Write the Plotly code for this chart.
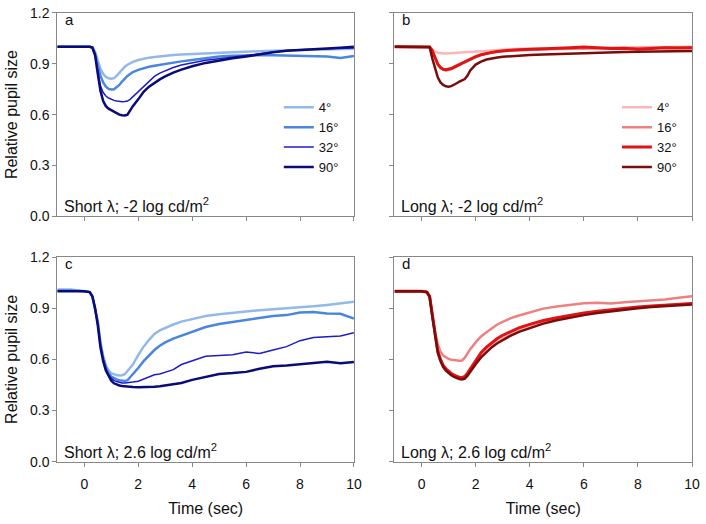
import plotly.graph_objects as go

# time axis (sec) shared by all traces
TIME = [-1.0, -0.5, 0.0, 0.2, 0.3, 0.4, 0.5, 0.6, 0.7, 0.8, 0.9, 1.0, 1.1, 1.2, 1.3, 1.4, 1.5, 1.6, 1.7, 1.8,
        2.0, 2.2, 2.4, 2.6, 2.8, 3.0, 3.3, 3.6, 4.0, 4.5, 5.0, 5.5, 6.0, 6.5, 7.0, 7.5, 8.0, 8.5, 9.0, 9.5, 10.0]

SIZES = ["4°", "16°", "32°", "90°"]

# panel a: short wavelength, -2 log cd/m2
a4 = [1.0, 1.0, 1.0, 1.0, 0.995, 0.97, 0.92, 0.87, 0.84, 0.822, 0.814, 0.812, 0.815, 0.828, 0.847, 0.866, 0.882, 0.894, 0.904, 0.911,
      0.922, 0.93, 0.936, 0.94, 0.944, 0.947, 0.951, 0.955, 0.958, 0.962, 0.966, 0.969, 0.972, 0.974, 0.976, 0.978, 0.98, 0.982, 0.984, 0.986, 0.988]
a16 = [1.0, 1.0, 1.0, 1.0, 0.995, 0.96, 0.89, 0.83, 0.79, 0.765, 0.752, 0.748, 0.75, 0.76, 0.775, 0.795, 0.813, 0.828, 0.84, 0.85,
       0.864, 0.874, 0.882, 0.888, 0.894, 0.899, 0.907, 0.914, 0.922, 0.934, 0.942, 0.947, 0.95, 0.951, 0.95, 0.949, 0.948, 0.946, 0.942, 0.934, 0.945]
a32 = [1.0, 1.0, 1.0, 1.0, 0.995, 0.955, 0.86, 0.77, 0.73, 0.71, 0.698, 0.69, 0.684, 0.68, 0.677, 0.676, 0.677, 0.68, 0.69, 0.705,
       0.735, 0.77, 0.8, 0.825, 0.845, 0.86, 0.878, 0.892, 0.905, 0.92, 0.93, 0.94, 0.948, 0.96, 0.972, 0.978, 0.982, 0.984, 0.988, 0.99, 0.993]
a90 = [1.0, 1.0, 1.0, 1.0, 0.995, 0.95, 0.84, 0.74, 0.68, 0.65, 0.635, 0.625, 0.615, 0.607, 0.6, 0.596, 0.595, 0.6, 0.625, 0.65,
       0.69, 0.735, 0.765, 0.788, 0.808, 0.825, 0.848, 0.865, 0.885, 0.905, 0.92, 0.932, 0.942, 0.955, 0.968, 0.976, 0.982, 0.985, 0.99, 0.995, 1.0]

# panel b: long wavelength, -2 log cd/m2
b4 = [1.0, 1.0, 1.0, 1.0, 0.998, 0.985, 0.972, 0.965, 0.962, 0.961, 0.961, 0.962, 0.963, 0.965, 0.967, 0.969, 0.971, 0.972, 0.973, 0.974,
      0.976, 0.978, 0.98, 0.982, 0.984, 0.985, 0.987, 0.988, 0.99, 0.991, 0.992, 0.993, 0.994, 0.995, 0.996, 0.997, 0.998, 0.999, 1.0, 1.0, 1.0]
b16 = [1.0, 1.0, 1.0, 1.0, 0.998, 0.975, 0.93, 0.895, 0.875, 0.864, 0.86, 0.862, 0.868, 0.876, 0.885, 0.893, 0.902, 0.91, 0.918, 0.925,
       0.94, 0.952, 0.96, 0.966, 0.971, 0.975, 0.978, 0.98, 0.983, 0.985, 0.987, 0.988, 0.99, 0.99, 0.99, 0.992, 0.993, 0.993, 0.995, 0.996, 0.997]
b32 = [1.0, 1.0, 1.0, 1.0, 0.998, 0.975, 0.932, 0.898, 0.878, 0.868, 0.865, 0.867, 0.872, 0.88, 0.888, 0.896, 0.905, 0.913, 0.92, 0.927,
       0.942, 0.953, 0.961, 0.967, 0.972, 0.976, 0.98, 0.982, 0.984, 0.986, 0.99, 0.995, 0.998, 0.995, 0.99, 0.992, 0.985, 0.99, 0.994, 0.993, 0.995]
b90 = [1.0, 1.0, 1.0, 1.0, 0.998, 0.93, 0.87, 0.82, 0.79, 0.775, 0.767, 0.765, 0.768, 0.775, 0.785, 0.795, 0.802, 0.81, 0.83, 0.86,
       0.895, 0.913, 0.925, 0.932, 0.937, 0.941, 0.945, 0.948, 0.951, 0.955, 0.958, 0.961, 0.963, 0.965, 0.967, 0.969, 0.97, 0.972, 0.973, 0.974, 0.975]

# panel c: short wavelength, 2.6 log cd/m2
c4 = [1.01, 1.01, 1.0, 0.995, 0.97, 0.9, 0.82, 0.7, 0.62, 0.565, 0.535, 0.52, 0.512, 0.508, 0.506, 0.507, 0.513, 0.53, 0.55, 0.57,
      0.625, 0.675, 0.715, 0.75, 0.77, 0.785, 0.805, 0.822, 0.838, 0.855, 0.865, 0.874, 0.882, 0.889, 0.895, 0.9, 0.905, 0.912, 0.92, 0.93, 0.938]
c16 = [1.005, 1.005, 1.0, 0.995, 0.97, 0.9, 0.82, 0.69, 0.61, 0.555, 0.52, 0.5, 0.49, 0.483, 0.478, 0.475, 0.473, 0.478, 0.495, 0.51,
       0.55, 0.59, 0.625, 0.655, 0.68, 0.7, 0.722, 0.74, 0.76, 0.79, 0.808, 0.82, 0.832, 0.845, 0.855, 0.86, 0.875, 0.878, 0.87, 0.868, 0.84]
c32 = [1.0, 1.0, 1.0, 0.995, 0.97, 0.9, 0.81, 0.68, 0.6, 0.545, 0.51, 0.49, 0.477, 0.47, 0.465, 0.462, 0.462, 0.463, 0.465, 0.467,
       0.472, 0.485, 0.5, 0.51, 0.515, 0.525, 0.54, 0.57, 0.59, 0.618, 0.623, 0.628, 0.643, 0.635, 0.655, 0.675, 0.71, 0.728, 0.733, 0.737, 0.757]
c90 = [1.0, 1.0, 1.0, 0.995, 0.97, 0.9, 0.8, 0.67, 0.59, 0.535, 0.5, 0.475, 0.46, 0.452, 0.447, 0.444, 0.442, 0.44, 0.439, 0.438,
       0.437, 0.437, 0.438, 0.44, 0.443, 0.447, 0.453, 0.462, 0.48, 0.498, 0.515, 0.52, 0.527, 0.545, 0.56, 0.565, 0.572, 0.58, 0.586, 0.577, 0.585]

# panel d: long wavelength, 2.6 log cd/m2
d4 = [1.0, 1.0, 1.0, 0.995, 0.97, 0.86, 0.74, 0.65, 0.6, 0.565, 0.545, 0.528, 0.515, 0.505, 0.497, 0.492, 0.49, 0.496, 0.515, 0.54,
      0.585, 0.628, 0.66, 0.688, 0.711, 0.73, 0.754, 0.775, 0.797, 0.82, 0.838, 0.855, 0.868, 0.879, 0.889, 0.897, 0.905, 0.912, 0.917, 0.922, 0.927]
d16 = [1.0, 1.0, 1.0, 0.995, 0.97, 0.87, 0.76, 0.69, 0.645, 0.622, 0.61, 0.603, 0.598, 0.595, 0.593, 0.592, 0.594, 0.61, 0.635, 0.66,
       0.7, 0.735, 0.76, 0.785, 0.805, 0.82, 0.842, 0.858, 0.875, 0.898, 0.91, 0.922, 0.93, 0.932, 0.928, 0.935, 0.94, 0.946, 0.952, 0.962, 0.97]
d32 = [1.0, 1.0, 1.0, 0.995, 0.97, 0.86, 0.74, 0.65, 0.6, 0.565, 0.545, 0.53, 0.518, 0.508, 0.5, 0.495, 0.493, 0.5, 0.52, 0.545,
       0.595, 0.64, 0.672, 0.7, 0.723, 0.742, 0.765, 0.785, 0.806, 0.828, 0.845, 0.86, 0.872, 0.882, 0.892, 0.9, 0.908, 0.914, 0.918, 0.923, 0.928]
d90 = [1.0, 1.0, 1.0, 0.995, 0.965, 0.85, 0.73, 0.64, 0.59, 0.555, 0.535, 0.52, 0.507, 0.497, 0.49, 0.485, 0.482, 0.487, 0.505, 0.528,
       0.572, 0.612, 0.645, 0.672, 0.695, 0.715, 0.74, 0.762, 0.785, 0.81, 0.83, 0.847, 0.86, 0.872, 0.882, 0.892, 0.9, 0.907, 0.913, 0.918, 0.922]

BLUES = ["#93b8ea", "#4a86e0", "#1c1cc8", "#0b0b78"]
BLUE_W = [2.5, 2.5, 1.5, 2.5]
REDS = ["#f6b8b8", "#ef8080", "#e01414", "#7a0c0c"]
RED_W = [2.5, 2.5, 3, 2.5]

FONT = "Arial, Liberation Sans, sans-serif"

fig = go.Figure()

# panel -> (data, colors, widths, xaxis, yaxis, legend)
panels = [
    ([a4, a16, a32, a90], BLUES, BLUE_W, "x", "y", "legend"),
    ([b4, b16, b32, b90], REDS, RED_W, "x2", "y2", "legend2"),
    ([c4, c16, c32, c90], BLUES, BLUE_W, "x3", "y3", None),
    ([d4, d16, d32, d90], REDS, RED_W, "x4", "y4", None),
]
for series, cols, widths, xa, ya, leg in panels:
    for name, ys, c, w in zip(SIZES, series, cols, widths):
        fig.add_trace(go.Scatter(x=TIME, y=ys, mode="lines", name=name,
                                 line=dict(color=c, width=w),
                                 xaxis=xa, yaxis=ya,
                                 showlegend=leg is not None,
                                 legend=leg if leg else "legend"))

W, H = 706, 524
xdom_l = [58 / W, 358 / W]
xdom_r = [399 / W, 700 / W]
ydom_t = [1 - 215 / H, 1 - 5 / H]
ydom_b = [1 - 468 / H, 1 - 257 / H]

def xax(dom, anchor, labels):
    ax = dict(domain=dom, anchor=anchor, range=[-1, 10], tickvals=[0, 2, 4, 6, 8, 10],
              showticklabels=labels, ticks="outside", ticklen=4, tickcolor="#888",
              showline=True, linecolor="#888", linewidth=1, mirror=True,
              showgrid=False, zeroline=False, ticklabelstandoff=5, ticklabeloverflow="allow",
              tickfont=dict(size=14, color="#111"))
    if labels:
        ax["title"] = dict(text="Time (sec)", font=dict(size=16, color="#111"), standoff=12)
    return ax

def yax(dom, anchor, labels):
    ax = dict(domain=dom, anchor=anchor, range=[0, 1.2], tickvals=[0, 0.3, 0.6, 0.9, 1.2],
              tickformat=".1f", showticklabels=labels, ticks="outside", ticklen=4, tickcolor="#888",
              showline=True, linecolor="#888", linewidth=1, mirror=True,
              showgrid=False, zeroline=False,
              tickfont=dict(size=14, color="#111"))
    if labels:
        ax["title"] = dict(text="Relative pupil size", font=dict(size=16, color="#111"), standoff=8)
    return ax

leg_common = dict(font=dict(size=13, color="#111", family=FONT), bgcolor="rgba(0,0,0,0)",
                  xanchor="left", yanchor="top", tracegroupgap=0, itemwidth=30)

fig.update_layout(
    width=W, height=H,
    margin=dict(l=0, r=0, t=0, b=0),
    paper_bgcolor="white", plot_bgcolor="white",
    font=dict(family=FONT),
    xaxis=xax(xdom_l, "y", False), yaxis=yax(ydom_t, "x", True),
    xaxis2=xax(xdom_r, "y2", False), yaxis2=yax(ydom_t, "x2", False),
    xaxis3=xax(xdom_l, "y3", True), yaxis3=yax(ydom_b, "x3", True),
    xaxis4=xax(xdom_r, "y4", True), yaxis4=yax(ydom_b, "x4", False),
    legend=dict(x=282 / W, y=1 - 87 / H, **leg_common),
    legend2=dict(x=624 / W, y=1 - 87 / H, **leg_common),
)

letters = ["a", "b", "c", "d"]
captions = ["Short λ; -2 log cd/m<sup>2</sup>", "Long λ; -2 log cd/m<sup>2</sup>",
            "Short λ; 2.6 log cd/m<sup>2</sup>", "Long λ; 2.6 log cd/m<sup>2</sup>"]
axes = [("x", "y"), ("x2", "y2"), ("x3", "y3"), ("x4", "y4")]
for (xa, ya), let, cap in zip(axes, letters, captions):
    fig.add_annotation(text=let, xref=xa + " domain", yref=ya + " domain", x=0.02, y=1.02,
                       xanchor="left", yanchor="top", showarrow=False,
                       font=dict(size=15, color="#111"))
    fig.add_annotation(text=cap, xref=xa + " domain", yref=ya + " domain", x=0.015, y=-0.005,
                       xanchor="left", yanchor="bottom", showarrow=False,
                       font=dict(size=16, color="#111"))

# drop the default page margin so the figure sits at the window's corner
fig.write_html("out.html", config={"displayModeBar": False},
               post_script="document.body.style.margin='0';")
